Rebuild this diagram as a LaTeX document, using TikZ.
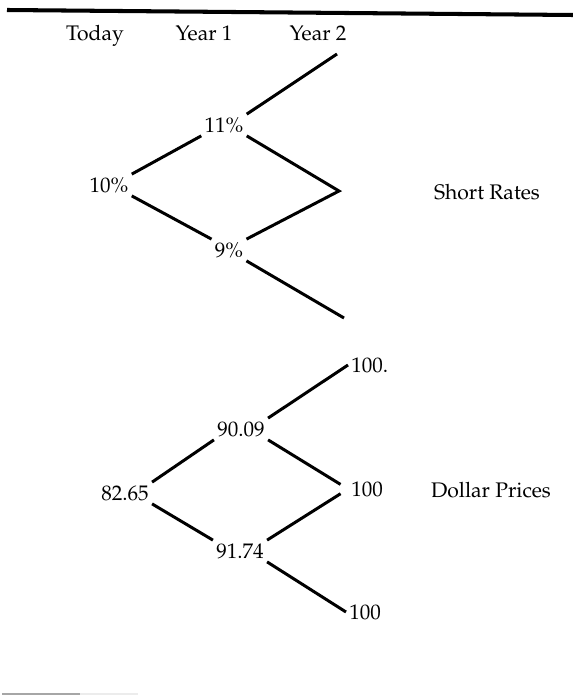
\documentclass[tikz,border=0pt]{standalone}
\usepackage[T1]{fontenc}
\usepackage{mathpazo}
\usetikzlibrary{calc}

\begin{document}
\begin{tikzpicture}[x=0.02cm,y=-0.02cm,
  lbl/.style={font=\fontsize{12}{14}\selectfont,inner sep=1.7pt},
  br/.style={line width=1.7pt}]
  \useasboundingbox (0,0) rectangle (573,696);
  \draw[line width=2.3pt] (7,10) -- (573,15);
  \foreach \n/\x/\t in {hA/95/Today,hB/204/Year 1,hC/318/Year 2}
    \node[lbl,anchor=base] (\n) at (\x,41) {\t};
  % short rates
  \node[lbl] (r0) at (109,185) {10\%};
  \node[lbl] (ru) at (224,125) {11\%};
  \node[lbl] (rd) at (229,250) {9\%};
  \coordinate (ra) at (337,54); \coordinate (rb) at (339,191);
  \coordinate (rc) at (344,318);
  \draw[br] (r0.north east) -- (ru.south west);
  \draw[br] (r0.south east) -- (rd.north west);
  \draw[br] (ru.north east) -- (ra);
  \draw[br] (ru.south east) -- (rb) -- (rd.north east);
  \draw[br] (rd.south east) -- (rc);
  \node[lbl] (sr) at (487,192) {Short Rates};
  % dollar prices
  \node[lbl] (p0) at (125,493) {82.65};
  \node[lbl] (pu) at (241,429) {90.09};
  \node[lbl] (pd) at (240,551) {91.74};
  \node[lbl,anchor=west] (pa) at (348,365) {100.};
  \node[lbl,anchor=west] (pb) at (348,489) {100};
  \node[lbl,anchor=west] (pc) at (346,612) {100};
  \draw[br] (p0.north east) -- (pu.south west);
  \draw[br] (p0.south east) -- (pd.north west);
  \draw[br] (pu.north east) -- (pa.west);
  \draw[br,shorten >=5pt] (pu.south east) -- (pb.west);
  \draw[br,shorten >=5pt] (pd.north east) -- (pb.west);
  \draw[br] (pd.south east) -- (pc.west);
  \node[lbl] (dp) at (491,490) {Dollar Prices};
  \draw[gray!70,line width=1.1pt] (2,694) -- (80,694);
  \draw[gray!15,line width=1.1pt] (80,694) -- (138,694);
\end{tikzpicture}
\end{document}
